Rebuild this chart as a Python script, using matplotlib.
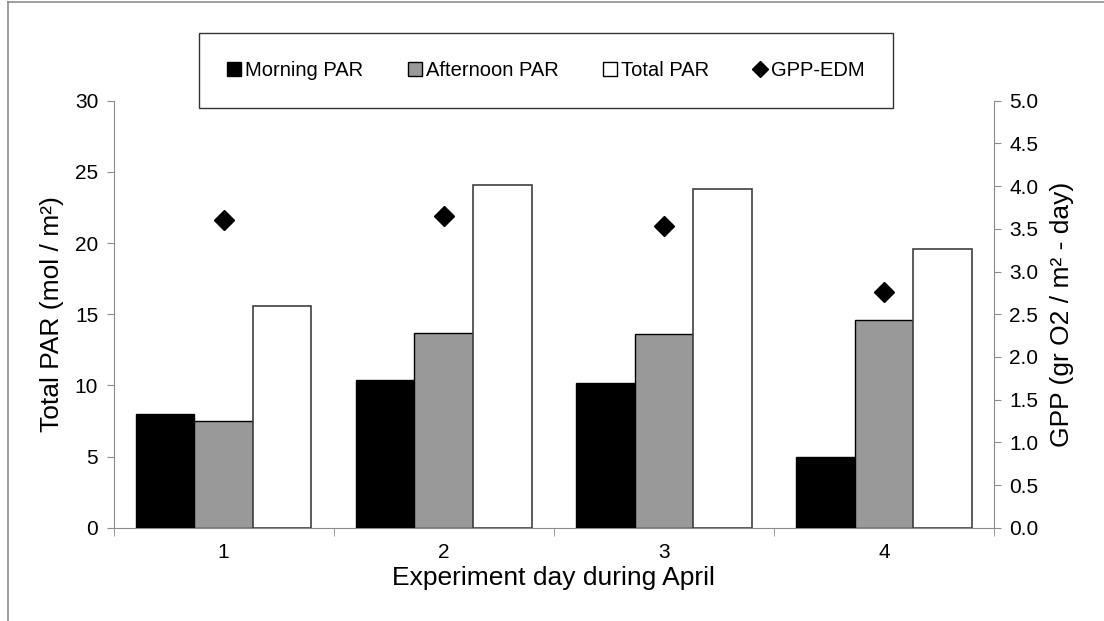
import matplotlib
matplotlib.use("Agg")
import matplotlib.pyplot as plt
from matplotlib.lines import Line2D
from matplotlib.patches import Patch
from matplotlib.ticker import FormatStrFormatter, FixedLocator

days = [1, 2, 3, 4]
morning_par = [8.0, 10.4, 10.2, 4.95]
afternoon_par = [7.5, 13.7, 13.6, 14.6]
total_par = [15.55, 24.1, 23.8, 19.55]
gpp_edm = [3.6, 3.65, 3.53, 2.76]

plt.rcParams['font.family'] = ['Liberation Sans', 'DejaVu Sans']

fig = plt.figure(figsize=(11.04, 6.21), dpi=100)
ax = fig.add_axes([113.5 / 1104, 1 - 527.7 / 621, (994 - 113.5) / 1104, 427 / 621])

gray = '#8c8c8c'
w = 0.266
x = list(days)
ax.bar([d - w for d in x], morning_par, width=w, color='black', edgecolor='black', linewidth=1, zorder=3)
ax.bar(x, afternoon_par, width=w, color='#999999', edgecolor='black', linewidth=1, zorder=3)
ax.bar([d + w for d in x], total_par, width=w, color='white', edgecolor='#404040', linewidth=1.2, zorder=3)

ax.set_xlim(0.5, 4.5)
ax.set_ylim(0, 30)
ax.set_yticks(range(0, 31, 5))
ax.set_xticks(days)
ax.set_xticklabels([str(d) for d in days])
ax.xaxis.set_minor_locator(FixedLocator([0.5, 1.5, 2.5, 3.5, 4.5]))
ax.tick_params(axis='x', which='major', length=0, labelsize=15, pad=11)
ax.tick_params(axis='x', which='minor', length=6, color=gray, direction='out')
ax.tick_params(axis='y', length=5, color=gray, labelsize=15, pad=6)
for s in ['top', 'right']:
    ax.spines[s].set_visible(False)
for s in ['left', 'bottom']:
    ax.spines[s].set_color(gray)
ax.set_ylabel('Total PAR (mol / m²)', fontsize=19, labelpad=8)
ax.set_xlabel('Experiment day during April', fontsize=19, labelpad=3)

ax2 = ax.twinx()
ax2.plot(days, gpp_edm, linestyle='none', marker='D', markersize=10, color='black', zorder=4)
ax2.set_ylim(0, 5)
ax2.set_yticks([i * 0.5 for i in range(11)])
ax2.yaxis.set_major_formatter(FormatStrFormatter('%.1f'))
ax2.tick_params(axis='y', length=5, color=gray, labelsize=15, pad=6)
for s in ['top', 'left', 'bottom']:
    ax2.spines[s].set_visible(False)
ax2.spines['right'].set_color(gray)
ax2.set_ylabel('GPP (gr O2 / m² - day)', fontsize=19, labelpad=8)

# figure frame (partially visible in reference)
fig.add_artist(Line2D([8 / 1104, 8 / 1104], [0, 1 - 2 / 621], transform=fig.transFigure, color=gray, lw=1.2))
fig.add_artist(Line2D([8 / 1104, 1], [1 - 2 / 621, 1 - 2 / 621], transform=fig.transFigure, color=gray, lw=1.2))

handles = [
    Patch(facecolor='black', edgecolor='black', label='Morning PAR'),
    Patch(facecolor='#999999', edgecolor='black', label='Afternoon PAR'),
    Patch(facecolor='white', edgecolor='black', label='Total PAR'),
    Line2D([], [], linestyle='none', marker='D', markersize=8, color='black', label='GPP-EDM'),
]
leg = fig.legend(handles=handles, ncol=4, loc='center',
                 bbox_to_anchor=((198 + 894) / 2 / 1104, 1 - 70.5 / 621),
                 frameon=True, fontsize=14.5, handlelength=0.7, handleheight=0.7,
                 handletextpad=0.2, columnspacing=2.2, borderpad=1.4, fancybox=False)
leg.get_frame().set_edgecolor('black')
leg.get_frame().set_linewidth(1.0)

fig.savefig('out.png', dpi=100)
